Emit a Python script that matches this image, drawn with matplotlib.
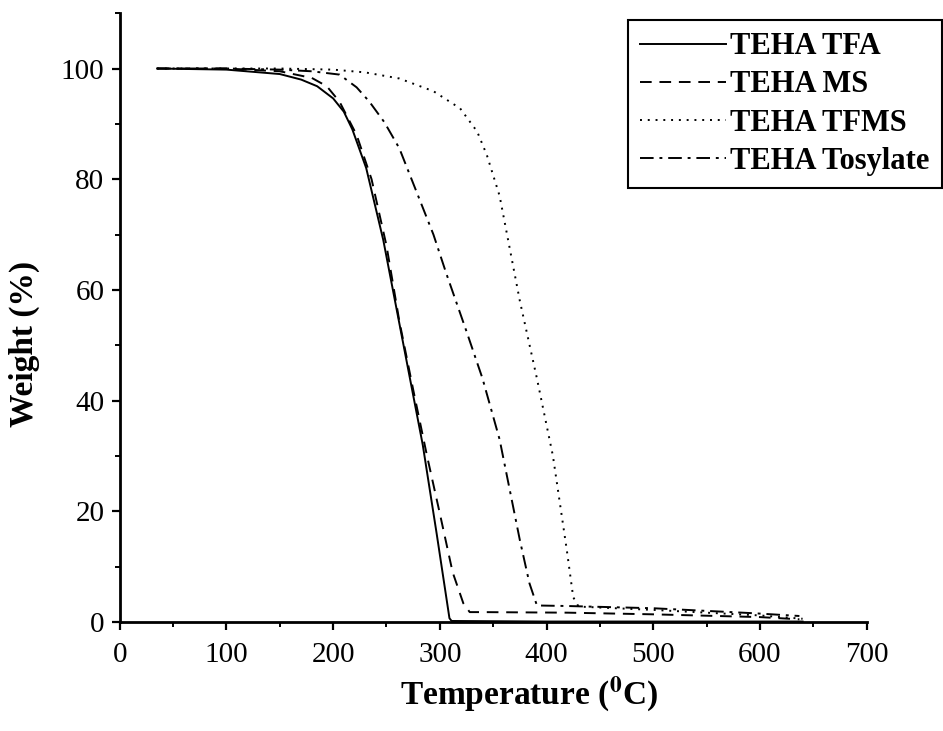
import matplotlib
matplotlib.use("Agg")
import matplotlib.pyplot as plt
from matplotlib.ticker import MultipleLocator

# TGA curves (temperature in C, weight in %)
tfa_t = [35, 100, 150, 170, 185, 200, 210, 218, 231, 247, 260, 272, 284, 297, 309, 311, 400, 500, 640]
tfa_w = [100, 99.8, 99, 98, 96.8, 94.6, 92.2, 89, 82, 69, 56, 44, 32, 16, 0.7, 0.2, 0.1, 0.1, 0.1]

ms_t = [35, 100, 150, 180, 194, 206, 222, 236, 250, 262, 275, 288, 300, 312, 322, 328, 340, 420, 500, 600, 637]
ms_w = [100, 100, 99.5, 98.3, 96.8, 94, 88, 80, 68, 54.4, 42, 30, 19.6, 9, 3.4, 1.8, 1.8, 1.7, 1.4, 0.9, 0.5]

tfms_t = [35, 150, 200, 230, 262, 294, 319, 335, 344, 356, 375, 391, 406, 419, 425, 430, 500, 600, 640]
tfms_w = [100, 100, 99.8, 99.3, 98.2, 95.9, 92.8, 88.6, 84.4, 77, 58, 44, 30, 13, 4.5, 2.8, 2.2, 1.2, 0.6]

tos_t = [35, 100, 150, 180, 206, 222, 234, 248, 262, 294, 306, 325, 340, 356, 375, 384, 391, 420, 500, 594, 637]
tos_w = [100, 100, 99.8, 99.5, 98.9, 96.6, 94, 90.3, 85.6, 70, 63, 52.5, 44, 33, 14.8, 7, 3, 2.9, 2.5, 1.6, 1.1]

labels = ["TEHA TFA", "TEHA MS", "TEHA TFMS", "TEHA Tosylate"]

plt.rcParams["font.family"] = ["Liberation Serif", "DejaVu Serif"]
plt.rcParams["mathtext.fontset"] = "stix"

fig = plt.figure(figsize=(9.43, 7.31), dpi=100)
ax = fig.add_axes([0.127, 0.149, 0.792, 0.833])

lw = 1.4
ax.plot(tfa_t, tfa_w, color="black", lw=lw, linestyle="-", label=labels[0])
ax.plot(ms_t, ms_w, color="black", lw=lw, linestyle=(0, (6, 4)), label=labels[1])
ax.plot(tfms_t, tfms_w, color="black", lw=lw, linestyle=(0, (1, 3)), label=labels[2])
ax.plot(tos_t, tos_w, color="black", lw=lw, linestyle=(0, (7, 3, 1.5, 3)), label=labels[3])

ax.set_xlim(0, 700)
ax.set_ylim(0, 110)
ax.xaxis.set_major_locator(MultipleLocator(100))
ax.xaxis.set_minor_locator(MultipleLocator(50))
ax.yaxis.set_major_locator(MultipleLocator(20))
ax.yaxis.set_minor_locator(MultipleLocator(10))

ax.spines["top"].set_visible(False)
ax.spines["right"].set_visible(False)
ax.spines["left"].set_linewidth(2)
ax.spines["bottom"].set_linewidth(2)

ax.tick_params(which="major", direction="out", length=6, width=1.6, labelsize=21)
ax.tick_params(which="minor", direction="out", length=3.5, width=1.4)
ax.tick_params(axis="x", which="major", pad=8)
ax.tick_params(axis="y", which="major", pad=5)

ax.set_xlabel(r"Temperature ($^{\mathbf{0}}$C)", fontsize=24, fontweight="bold")
ax.set_ylabel("Weight (%)", fontsize=24, fontweight="bold")
ax.xaxis.set_label_coords(0.548, -0.087)
ax.yaxis.set_label_coords(-0.107, 0.456)

leg = fig.legend(loc="upper right", bbox_to_anchor=(942 / 943, 1 - 20 / 731),
                 bbox_transform=fig.transFigure, prop={"weight": "bold", "size": 22},
                 frameon=True, fancybox=False, edgecolor="black", framealpha=1,
                 handlelength=2.8, handletextpad=0.15, labelspacing=0.3,
                 borderpad=0.4, borderaxespad=0)
leg.get_frame().set_linewidth(1.5)

fig.savefig("out.png", dpi=100)
